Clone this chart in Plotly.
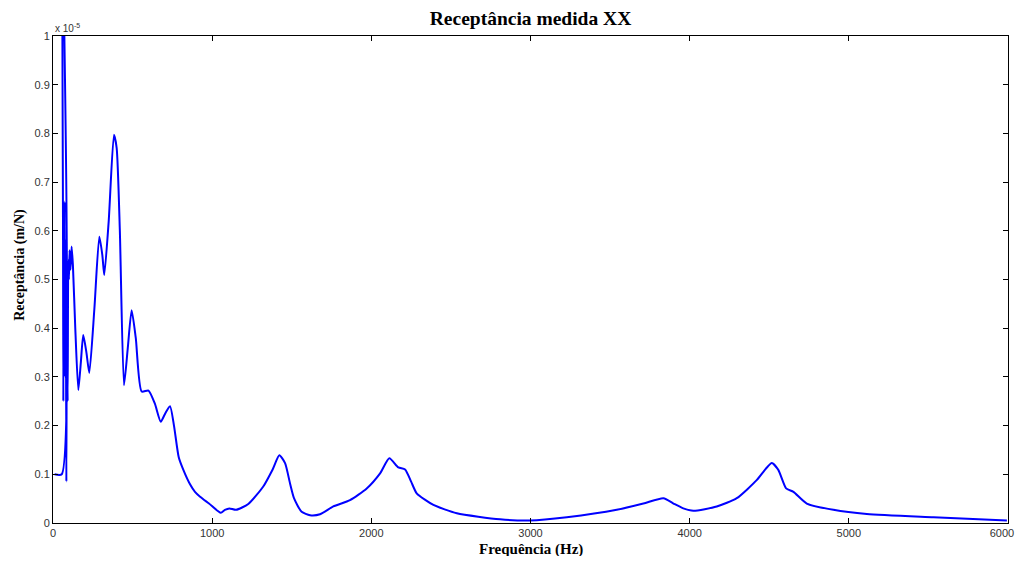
import plotly.graph_objects as go

# Frequency (Hz) and receptance (in units of 1e-5 m/N)
freq_hz = [10, 55, 56, 60, 63, 65, 67, 70, 73, 76, 80, 84, 87, 92, 96, 100, 104, 110, 117, 125,
           140, 159, 175, 190, 210, 228, 260, 291, 310, 322, 350, 383, 400, 420, 446, 470, 494,
           520, 557, 600, 640, 677, 705, 735, 760, 790, 819, 860, 892, 924, 980, 1054, 1080, 1108,
           1150, 1227, 1321, 1380, 1422, 1458, 1490, 1514, 1562, 1615, 1678, 1761, 1866, 1971,
           2055, 2113, 2170, 2212, 2250, 2285, 2390, 2537, 2809, 2997, 3228, 3542, 3709, 3835,
           3898, 3960, 4023, 4170, 4296, 4421, 4480, 4516, 4557, 4606, 4652, 4736, 4903, 5113,
           5532, 5993]
recept = [0.10, 0.10, 1.30, 0.90, 0.59, 0.25, 0.66, 0.40, 0.66, 0.30, 0.58, 0.085, 0.42, 0.25,
          0.54, 0.50, 0.56, 0.52, 0.568, 0.53, 0.40, 0.273, 0.33, 0.386, 0.35, 0.308, 0.44, 0.588,
          0.55, 0.509, 0.62, 0.797, 0.77, 0.60, 0.283, 0.36, 0.437, 0.38, 0.27, 0.272, 0.245,
          0.208, 0.225, 0.240, 0.20, 0.135, 0.109, 0.08, 0.064, 0.054, 0.040, 0.021, 0.027, 0.030,
          0.027, 0.039, 0.075, 0.110, 0.139, 0.123, 0.08, 0.051, 0.023, 0.016, 0.018, 0.034, 0.047,
          0.071, 0.102, 0.133, 0.114, 0.110, 0.085, 0.061, 0.037, 0.020, 0.0076, 0.005, 0.0117,
          0.027, 0.040, 0.051, 0.040, 0.030, 0.025, 0.034, 0.051, 0.088, 0.112, 0.123, 0.109,
          0.071, 0.064, 0.040, 0.027, 0.0185, 0.0117, 0.005]

x_ticks = [0, 1000, 2000, 3000, 4000, 5000, 6000]
# last label padded with non-breaking spaces so it stays inside the figure
x_tick_text = ["0", "1000", "2000", "3000", "4000", "5000", "6000" + "\u00a0" * 4]
y_ticks = [0, 0.1, 0.2, 0.3, 0.4, 0.5, 0.6, 0.7, 0.8, 0.9, 1]
y_tick_text = ["0", "0.1", "0.2", "0.3", "0.4", "0.5", "0.6", "0.7", "0.8", "0.9", "1"]

fig = go.Figure()
fig.add_trace(go.Scatter(x=freq_hz, y=recept, mode="lines",
                         line=dict(color="#0000ff", width=2, shape="spline", smoothing=0.6),
                         showlegend=False))

serif = "Liberation Serif, Times New Roman, serif"
sans = "Liberation Sans, Arial, sans-serif"
tickfont = dict(family=sans, size=11, color="#333333")
W, H = 1007, 548  # page body has an 8px margin on every side
fig.update_layout(
    width=W, height=H,
    margin=dict(l=45, r=7, t=28, b=33),
    paper_bgcolor="white", plot_bgcolor="white",
    title=dict(text="<b>Receptância medida XX</b>", x=522.5 / W, xanchor="center", xref="container",
               y=1 - 10 / H, yref="container", yanchor="middle",
               font=dict(family=serif, size=19.5, color="black")),
    xaxis=dict(range=[0, 6000], tickvals=x_ticks, ticktext=x_tick_text, ticks="inside", ticklen=5,
               tickcolor="black", showline=True, linecolor="black", linewidth=1, mirror="ticks",
               showgrid=False, zeroline=False, tickfont=tickfont, automargin=False,
               ticklabeloverflow="allow"),
    yaxis=dict(range=[0, 1], tickvals=y_ticks, ticktext=y_tick_text, ticks="inside", ticklen=5,
               tickcolor="black", showline=True, linecolor="black", linewidth=1, mirror="ticks",
               showgrid=False, zeroline=False, tickfont=tickfont, automargin=False),
    annotations=[
        dict(text="x 10<sup>-5</sup>", xref="paper", yref="paper", x=0.0, y=1.0,
             xanchor="left", yanchor="bottom", showarrow=False, font=dict(family=sans, size=10, color="#333333")),
        dict(text="<b>Frequência (Hz)</b>", xref="paper", yref="paper", x=0.5, y=-0.0554,
             xanchor="center", yanchor="middle", showarrow=False, font=dict(family=serif, size=15, color="black")),
        dict(text="<b>Receptância (m/N)</b>", xref="paper", yref="paper", x=-0.0346, y=0.53,
             xanchor="center", yanchor="middle", textangle=-90, showarrow=False,
             font=dict(family=serif, size=14, color="black")),
    ],
)

fig.write_html("out.html")
